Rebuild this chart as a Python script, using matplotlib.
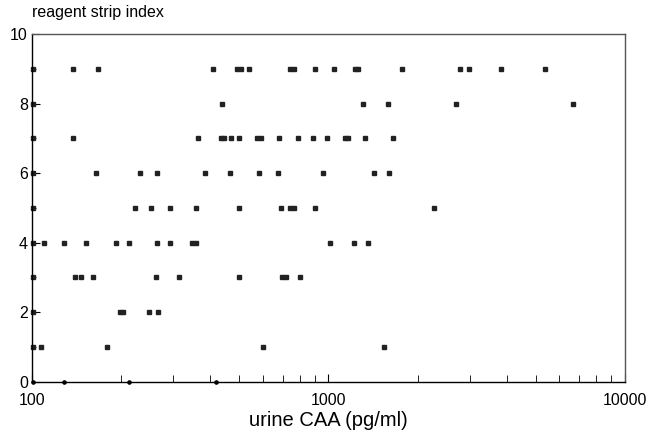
import matplotlib
matplotlib.use('Agg')
import matplotlib.pyplot as plt
import numpy as np

plt.rcParams['font.family'] = ['Liberation Sans', 'DejaVu Sans']

# urine CAA (pg/ml) values per reagent strip index
caa_9 = [101, 137, 167, 408, 493, 506, 538, 744, 763, 904, 1042, 1227, 1260, 1774, 2771, 2979, 3811, 5366]
caa_8 = [101, 437, 1306, 1591, 2700, 6657]
caa_7 = [101, 137, 362, 434, 445, 469, 498, 574, 592, 679, 790, 888, 990, 1135, 1166, 1323, 1654]
caa_6 = [101, 164, 232, 265, 384, 464, 581, 676, 960, 1422, 1598]
caa_5 = [101, 223, 252, 293, 357, 498, 694, 744, 763, 904, 2268]
caa_4 = [101, 110, 128, 152, 192, 213, 265, 293, 346, 357, 1010, 1218, 1362]
caa_3 = [101, 140, 146, 161, 262, 314, 498, 699, 721, 804]
caa_2 = [101, 198, 203, 249, 267]
caa_1 = [101, 107, 179, 600, 1538]
caa_0 = [101, 128, 213, 418]

rows = {9: caa_9, 8: caa_8, 7: caa_7, 6: caa_6, 5: caa_5,
        4: caa_4, 3: caa_3, 2: caa_2, 1: caa_1}

fig = plt.figure(figsize=(6.48, 4.34), dpi=100)
ax = fig.add_axes([0.0494, 0.1205, 0.915, 0.801])

for idx, vals in rows.items():
    ax.plot(vals, [idx] * len(vals), linestyle='none', marker='s',
            markersize=2.4, color='#222222', clip_on=False)
ax.plot(caa_0, [0] * len(caa_0), linestyle='none', marker='o',
        markersize=2.3, color='black', clip_on=False)

ax.set_xscale('log')
ax.set_xlim(100, 10000)
ax.set_ylim(0, 10)

ax.set_xticks([100, 1000, 10000])
ax.set_xticklabels(['100', '1000', '10000'], fontsize=11.5)
ax.set_yticks([0, 2, 4, 6, 8, 10])
ax.set_yticklabels(['0', '2', '4', '6', '8', '10'], fontsize=11.5)
ax.tick_params(axis='both', which='both', direction='in', color='black')
ax.tick_params(axis='x', which='major', length=6, pad=8)
ax.tick_params(axis='x', which='minor', length=5)
ax.tick_params(axis='y', which='major', length=6, pad=3)
ax.set_yticks([1, 3, 5, 7, 9], minor=True)
ax.tick_params(axis='y', which='minor', length=3)

for side in ['top', 'right']:
    ax.spines[side].set_color('#555555')
    ax.spines[side].set_linewidth(1.0)
for side in ['left', 'bottom']:
    ax.spines[side].set_linewidth(1.0)

ax.set_xlabel('urine CAA (pg/ml)', fontsize=14.5, labelpad=2)
fig.text(0.0494, 0.953, 'reagent strip index', fontsize=11.5, ha='left', va='bottom')

fig.savefig('out.png', dpi=100)
